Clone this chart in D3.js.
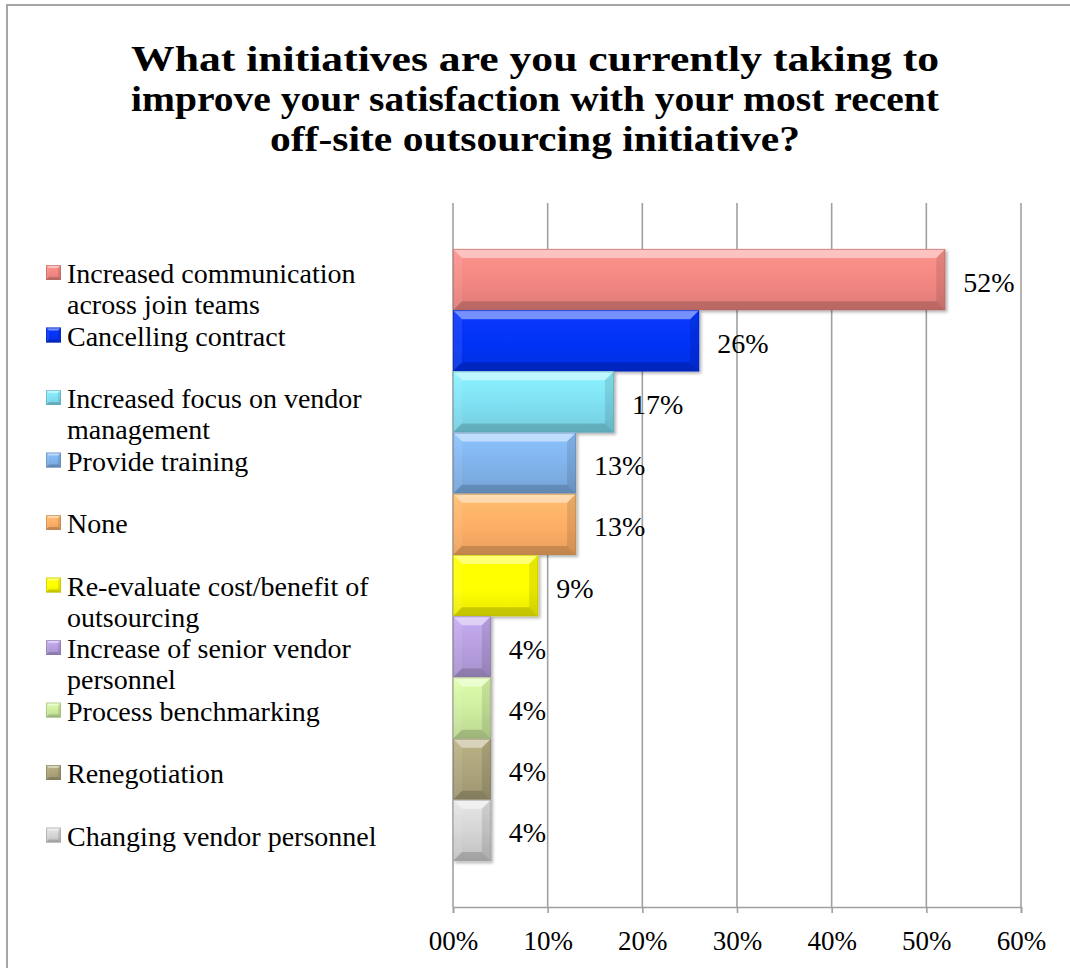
<!DOCTYPE html>
<html>
<head>
<meta charset="utf-8">
<script src="https://cdn.jsdelivr.net/npm/d3@7"></script>
<style>
  html, body { margin: 0; padding: 0; background: #fff; }
  svg { display: block; }
  text { font-family: "Liberation Serif", "Times New Roman", serif; fill: #000; }
</style>
</head>
<body>
<svg id="chart" width="1070" height="968"></svg>
<script>
// Survey answers, one series per initiative (share of respondents)
const categories = [
  "Increased communication\nacross join teams",
  "Cancelling contract",
  "Increased focus on vendor\nmanagement",
  "Provide training",
  "None",
  "Re-evaluate cost/benefit of\noutsourcing",
  "Increase of senior vendor\npersonnel",
  "Process benchmarking",
  "Renegotiation",
  "Changing vendor personnel"
];
const values = [0.52, 0.26, 0.17, 0.13, 0.13, 0.09, 0.04, 0.04, 0.04, 0.04];
const palette = ["#f28782", "#0633f6", "#7fdff2", "#80b2ea", "#fdae66",
                 "#ffff00", "#b69ede", "#cdec9e", "#aca37b", "#d3d3d3"];
const xTicks = [0, 0.1, 0.2, 0.3, 0.4, 0.5, 0.6];
const titleLines = [
  "What initiatives are you currently taking to",
  "improve your satisfaction with your most recent",
  "off-site outsourcing initiative?"
];
// set width of each title line, in pixels
const titleWidths = [808, 808, 530];

const svg = d3.select("#chart");
const W = 1070, H = 968;

// outer frame of the chart
svg.append("rect")
  .attr("x", 7).attr("y", 5).attr("width", W + 10).attr("height", H + 10)
  .attr("fill", "#fff").attr("stroke", "#a6a6a6").attr("stroke-width", 2);

// title
svg.append("g").selectAll("text").data(titleLines).join("text")
  .attr("x", 535).attr("y", (d, i) => 71 + i * 40)
  .attr("text-anchor", "middle")
  .attr("textLength", (d, i) => titleWidths[i])
  .attr("lengthAdjust", "spacingAndGlyphs")
  .style("font-size", "35px").style("font-weight", "bold")
  .text(d => d);

// plot area
const plot = { left: 453, right: 1021, top: 203, bottom: 907 };
const x = d3.scaleLinear().domain([0, 0.6]).range([plot.left, plot.right]);
const y = d3.scaleBand().domain(categories).range([plot.top, plot.bottom])
  .paddingInner(0).paddingOuter(0.75);

// vertical gridlines
svg.append("g").selectAll("line").data(xTicks).join("line")
  .attr("x1", d => x(d)).attr("x2", d => x(d))
  .attr("y1", plot.top).attr("y2", plot.bottom)
  .attr("stroke", "#a0a0a0").attr("stroke-width", 1.6);

// value axis along the bottom
const axis = d3.axisBottom(x).tickValues(xTicks)
  .tickSize(6).tickPadding(18)
  .tickFormat(d => d3.format("02d")(Math.round(d * 100)) + "%");
const axisG = svg.append("g").attr("transform", `translate(0,${plot.bottom})`).call(axis);
axisG.select(".domain").attr("stroke", "#a0a0a0").attr("stroke-width", 1.6);
axisG.selectAll(".tick line").attr("stroke", "#a0a0a0").attr("stroke-width", 1.6);
axisG.selectAll(".tick text")
  .attr("dy", "0.71em")
  .style("font-family", '"Liberation Serif", serif')
  .style("font-size", "27px").attr("fill", "#000");

// gradients and shadow for the bevelled bars
const defs = svg.append("defs");
palette.forEach((c, i) => {
  const g = defs.append("linearGradient").attr("id", "grad" + i)
    .attr("x1", 0).attr("y1", 0).attr("x2", 0).attr("y2", 1);
  g.append("stop").attr("offset", "0%").attr("stop-color", d3.color(c).brighter(0.25));
  g.append("stop").attr("offset", "55%").attr("stop-color", c);
  g.append("stop").attr("offset", "100%").attr("stop-color", d3.color(c).darker(0.25));
});
const shadow = defs.append("filter").attr("id", "shadow")
  .attr("x", "-10%").attr("y", "-20%").attr("width", "130%").attr("height", "150%");
shadow.append("feDropShadow").attr("dx", 2).attr("dy", 2)
  .attr("stdDeviation", 1.6).attr("flood-color", "#000").attr("flood-opacity", 0.3);

// draws a bevelled box into a group
function bevelBox(g, x0, y0, w, h, i, b) {
  const x1 = x0 + w, y1 = y0 + h;
  const c = palette[i];
  g.append("rect").attr("x", x0).attr("y", y0).attr("width", w).attr("height", h)
    .attr("fill", `url(#grad${i})`);
  const faces = [
    { p: [[x0, y0], [x1, y0], [x1 - b, y0 + b], [x0 + b, y0 + b]], f: "#fff", o: 0.45 },
    { p: [[x0, y0], [x0 + b, y0 + b], [x0 + b, y1 - b], [x0, y1]], f: "#fff", o: 0.08 },
    { p: [[x1, y0], [x1, y1], [x1 - b, y1 - b], [x1 - b, y0 + b]], f: "#000", o: 0.10 },
    { p: [[x0, y1], [x0 + b, y1 - b], [x1 - b, y1 - b], [x1, y1]], f: "#000", o: 0.16 }
  ];
  faces.forEach(fc => {
    g.append("polygon").attr("points", fc.p.map(q => q.join(",")).join(" "))
      .attr("fill", fc.f).attr("fill-opacity", fc.o);
  });
  g.append("rect").attr("x", x0 + 0.5).attr("y", y0 + 0.5)
    .attr("width", Math.max(0, w - 1)).attr("height", Math.max(0, h - 1))
    .attr("fill", "none").attr("stroke", d3.color(c).darker(0.8)).attr("stroke-opacity", 0.6);
}

// bars
const series = categories.map((name, i) => ({ name, value: values[i], i }));
const bars = svg.append("g");
series.forEach(d => {
  const g = bars.append("g").attr("filter", "url(#shadow)");
  bevelBox(g, x(0), y(d.name), x(d.value) - x(0), y.bandwidth(), d.i, 9);
});

// value labels
svg.append("g").selectAll("text").data(series).join("text")
  .attr("x", d => x(d.value) + 18)
  .attr("y", d => y(d.name) + y.bandwidth() / 2 + 12)
  .style("font-size", "28px")
  .text(d => d3.format(".0%")(d.value));

// legend
const legend = { x: 46, firstBaseline: 283, step: 62.5, line: 31, swatch: 15 };
const lg = svg.append("g");
series.forEach(d => {
  const base = legend.firstBaseline + d.i * legend.step;
  const g = lg.append("g");
  bevelBox(g, legend.x, base - 18, legend.swatch, legend.swatch, d.i, 3);
  const t = g.append("text").attr("x", legend.x + 21).attr("y", base)
    .style("font-size", "28px");
  d.name.split("\n").forEach((ln, k) => {
    t.append("tspan").attr("x", legend.x + 21).attr("y", base + k * legend.line).text(ln);
  });
});
</script>
</body>
</html>
